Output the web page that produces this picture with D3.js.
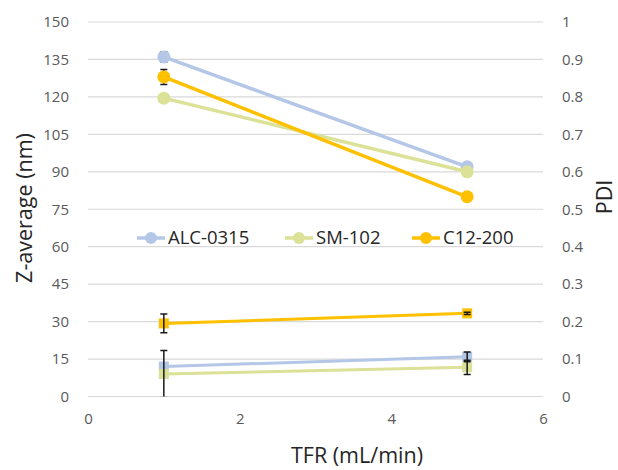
<!DOCTYPE html>
<html><head><meta charset="utf-8">
<script src="https://cdn.jsdelivr.net/npm/d3@7"></script>
<style>body{margin:0;background:#fff}svg{display:block}</style>
</head><body><svg id="c" width="618" height="470"></svg>
<script>
const series = ["ALC-0315", "SM-102", "C12-200"];
const colors = ["#B4C7E7", "#DBE196", "#FFC000"];
const tfr = [1, 5];
const zAvg = [[136, 92], [119.5, 90], [128, 80]];
const zErr = [[2, 0], [0, 0], [3, 0]];
const pdi = [[0.08, 0.106], [0.06, 0.078], [0.195, 0.222]];
const pdiErr = [[0, 0.013], [0.063, 0.019], [0.025, 0.003]];
const xTicks = [0, 2, 4, 6];
const yLeftTicks = [0, 15, 30, 45, 60, 75, 90, 105, 120, 135, 150];
const yRightTicks = [0, 0.1, 0.2, 0.3, 0.4, 0.5, 0.6, 0.7, 0.8, 0.9, 1];

const svg = d3.select("#c");
const font = "'Open Sans', sans-serif";
const x = d3.scaleLinear().domain([0, 6]).range([88, 543]);
const yL = d3.scaleLinear().domain([0, 150]).range([396.5, 22]);
const yR = d3.scaleLinear().domain([0, 1]).range([396.5, 22]);

svg.append("defs").append("clipPath").attr("id", "clip")
  .append("rect").attr("x", 88).attr("y", 15).attr("width", 460).attr("height", 381.5);

// gridlines
svg.append("g").selectAll("line").data(yLeftTicks).join("line")
  .attr("x1", x.range()[0]).attr("x2", x.range()[1])
  .attr("y1", d => yL(d)).attr("y2", d => yL(d))
  .attr("stroke", "#D9D9D9").attr("stroke-width", 1.2);

// axes
const axL = svg.append("g").attr("transform", "translate(88,0)")
  .call(d3.axisLeft(yL).tickValues(yLeftTicks).tickSize(0).tickPadding(19));
const axR = svg.append("g").attr("transform", "translate(543,0)")
  .call(d3.axisRight(yR).tickValues(yRightTicks).tickSize(0).tickPadding(19).tickFormat(d => d3.format("~g")(d)));
const axB = svg.append("g").attr("transform", "translate(0,396.5)")
  .call(d3.axisBottom(x).tickValues(xTicks).tickSize(0).tickPadding(17).tickFormat(d3.format("d")));
[axL, axR, axB].forEach(a => {
  a.select(".domain").remove();
  a.selectAll("text").attr("font-family", font).attr("font-size", 15).attr("fill", "#595959");
});

const plot = svg.append("g").attr("clip-path", "url(#clip)");
const line = d3.line();

function errBar(cx, y0, y1) {
  const g = plot.append("g").attr("stroke", "#1a1a1a").attr("stroke-width", 1.5);
  g.append("line").attr("x1", cx).attr("x2", cx).attr("y1", y0).attr("y2", y1);
  g.append("line").attr("x1", cx - 3.5).attr("x2", cx + 3.5).attr("y1", y0).attr("y2", y0);
  g.append("line").attr("x1", cx - 3.5).attr("x2", cx + 3.5).attr("y1", y1).attr("y2", y1);
}

// PDI series (squares), error bars drawn on top
series.forEach((s, i) => {
  const ptsR = tfr.map((t, j) => [x(t), yR(pdi[i][j])]);
  plot.append("path").attr("d", line(ptsR)).attr("fill", "none")
    .attr("stroke", colors[i]).attr("stroke-width", 3);
  plot.selectAll(null).data(ptsR).join("rect")
    .attr("x", d => d[0] - 5).attr("y", d => d[1] - 5).attr("width", 10).attr("height", 10)
    .attr("fill", colors[i]);
});
series.forEach((s, i) => {
  tfr.forEach((t, j) => {
    if (pdiErr[i][j] > 0) errBar(x(t), yR(pdi[i][j] + pdiErr[i][j]), yR(pdi[i][j] - pdiErr[i][j]));
  });
});

// Z-average series (circles), error bars under markers
series.forEach((s, i) => {
  tfr.forEach((t, j) => {
    if (zErr[i][j] > 0) errBar(x(t), yL(zAvg[i][j] + zErr[i][j]), yL(zAvg[i][j] - zErr[i][j]));
  });
  const ptsL = tfr.map((t, j) => [x(t), yL(zAvg[i][j])]);
  plot.append("path").attr("d", line(ptsL)).attr("fill", "none")
    .attr("stroke", colors[i]).attr("stroke-width", 3.5);
  plot.selectAll(null).data(ptsL).join("circle")
    .attr("cx", d => d[0]).attr("cy", d => d[1]).attr("r", 6.5)
    .attr("fill", colors[i]);
});

// legend
const legX = [137, 285, 412];
const leg = svg.append("g");
series.forEach((s, i) => {
  const g = leg.append("g").attr("transform", `translate(${legX[i]},238)`);
  g.append("line").attr("x1", 0).attr("x2", 28).attr("stroke", colors[i]).attr("stroke-width", 3.5);
  g.append("circle").attr("cx", 14).attr("r", 6).attr("fill", colors[i]);
  g.append("text").attr("x", 31).attr("y", 0).attr("dy", "0.35em")
    .attr("font-family", font).attr("font-size", 18.5).attr("fill", "#262626").text(s);
});

// axis titles
svg.append("text").attr("transform", "translate(32,208) rotate(-90)").attr("text-anchor", "middle")
  .attr("font-family", font).attr("font-size", 21.5).attr("fill", "#262626").text("Z-average (nm)");
svg.append("text").attr("transform", "translate(612,197) rotate(-90)").attr("text-anchor", "middle")
  .attr("font-family", font).attr("font-size", 21.5).attr("fill", "#262626").text("PDI");
svg.append("text").attr("x", 357).attr("y", 463).attr("text-anchor", "middle")
  .attr("font-family", font).attr("font-size", 21.5).attr("fill", "#262626").text("TFR (mL/min)");
</script></body></html>
